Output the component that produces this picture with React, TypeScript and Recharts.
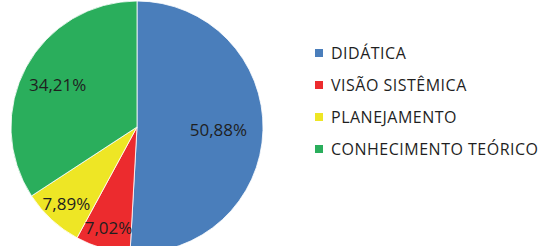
import { Cell, Legend, Pie, PieChart } from 'recharts'

const categories = ['DIDÁTICA', 'VISÃO SISTÊMICA', 'PLANEJAMENTO', 'CONHECIMENTO TEÓRICO']
const shares = [50.88, 7.02, 7.89, 34.21]
const colors = ['#4A7EBB', '#EC2B2E', '#EEE625', '#2AAE5C']

const data = categories.map((name, i) => ({ name, value: shares[i] }))

const RADIAN = Math.PI / 180

const formatPct = (v: number): string => `${v.toFixed(2).replace('.', ',')}%`

// small slices push their label further out, big ones keep it closer to the centre
const renderLabel = (props: any) => {
  const { cx, cy, midAngle, outerRadius, value, percent } = props
  const r = outerRadius * (0.86 - 0.42 * percent)
  const x = cx + r * Math.cos(-midAngle * RADIAN)
  const y = cy + r * Math.sin(-midAngle * RADIAN)
  return (
    <text
      x={x}
      y={y}
      fill="#1f1f1f"
      fontSize={17}
      fontFamily="'Open Sans', sans-serif"
      textAnchor="middle"
      dominantBaseline="central"
    >
      {formatPct(value)}
    </text>
  )
}

const renderLegend = () => (
  <div style={{ fontFamily: "'Open Sans', sans-serif", fontSize: 16, letterSpacing: 0.5, color: '#1f1f1f' }}>
    {categories.map((name, i) => (
      <div key={name} style={{ display: 'flex', alignItems: 'center', height: 32 }}>
        <span
          style={{ width: 8, height: 8, background: colors[i], marginRight: 8, display: 'inline-block' }}
        />
        <span>{name}</span>
      </div>
    ))}
  </div>
)

const App = (): React.JSX.Element => {
  return (
    <div style={{ width: 541, height: 246, background: '#fff' }}>
      <style>{'body { margin: 0; }'}</style>
      <PieChart width={541} height={246} margin={{ top: 0, right: 0, bottom: 0, left: 0 }}>
        <Pie
          data={data}
          dataKey="value"
          nameKey="name"
          cx={137}
          cy={127}
          outerRadius={126}
          startAngle={90}
          endAngle={-270}
          stroke="#ffffff"
          strokeWidth={0.8}
          label={renderLabel}
          labelLine={false}
          isAnimationActive={false}
        >
          {data.map((d, i) => (
            <Cell key={d.name} fill={colors[i]} />
          ))}
        </Pie>
        <Legend
          content={renderLegend}
          layout="vertical"
          wrapperStyle={{ position: 'absolute', left: 315, top: 37, width: 230 }}
        />
      </PieChart>
    </div>
  )
}

export default App
